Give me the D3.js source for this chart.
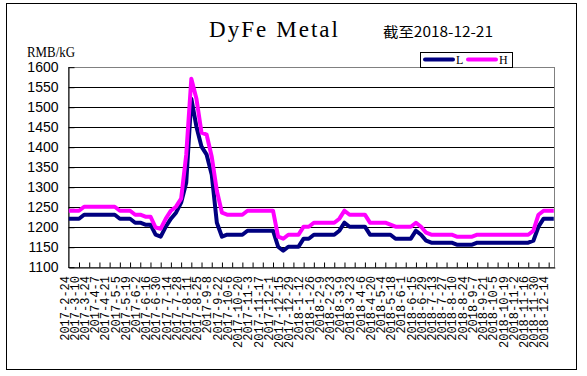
<!DOCTYPE html>
<html lang="zh">
<head>
  <meta charset="UTF-8">
  <title>DyFe Metal</title>
  <script src="https://d3js.org/d3.v7.min.js"></script>
  <style>
    body { margin: 0; background: #fff; }
  </style>
</head>
<body>
  <svg id="chart" width="587" height="376"></svg>

  <script>
    // weekly prices, RMB/kG (one value per week, 2017-2-24 .. 2018-12-21)
    const lowPrices = [
      1220, 1220, 1220, 1230, 1230, 1230, 1230, 1230, 1230, 1230,
      1220, 1220, 1220, 1210, 1210, 1205, 1205, 1180, 1175, 1200,
      1220, 1235, 1260, 1310, 1520, 1450, 1400, 1380, 1330, 1210,
      1175, 1180, 1180, 1180, 1180, 1190, 1190, 1190, 1190, 1190,
      1190, 1150, 1140, 1150, 1150, 1150, 1170, 1170, 1180, 1180,
      1180, 1180, 1180, 1190, 1210, 1200, 1200, 1200, 1200, 1180,
      1180, 1180, 1180, 1180, 1170, 1170, 1170, 1170, 1190, 1180,
      1165, 1160, 1160, 1160, 1160, 1160, 1155, 1155, 1155, 1155,
      1160, 1160, 1160, 1160, 1160, 1160, 1160, 1160, 1160, 1160,
      1160, 1165, 1200, 1220, 1220, 1220
    ];
    const highPrices = [
      1240, 1240, 1240, 1250, 1250, 1250, 1250, 1250, 1250, 1250,
      1240, 1240, 1240, 1230, 1230, 1225, 1225, 1198, 1195, 1220,
      1240, 1250, 1270, 1380, 1570, 1520, 1435, 1430, 1375, 1290,
      1235, 1230, 1230, 1230, 1230, 1240, 1240, 1240, 1240, 1240,
      1240, 1175, 1170, 1180, 1180, 1180, 1200, 1200, 1210, 1210,
      1210, 1210, 1210, 1220, 1240, 1230, 1230, 1230, 1230, 1210,
      1210, 1210, 1210, 1205, 1200, 1200, 1200, 1200, 1210, 1200,
      1185, 1180, 1180, 1180, 1180, 1180, 1175, 1175, 1175, 1175,
      1180, 1180, 1180, 1180, 1180, 1180, 1180, 1180, 1180, 1180,
      1180, 1190, 1230, 1240, 1240, 1240
    ];

    // one label every two weeks (every 10 trading days)
    const dateLabels = [
      "2017-2-24", "2017-3-10", "2017-3-24", "2017-4-7", "2017-4-21", "2017-5-5",
      "2017-5-19", "2017-6-2", "2017-6-16", "2017-6-30", "2017-7-14", "2017-7-28",
      "2017-8-11", "2017-8-25", "2017-9-8", "2017-9-22", "2017-10-6", "2017-10-20",
      "2017-11-3", "2017-11-17", "2017-12-1", "2017-12-15", "2017-12-29", "2018-1-12",
      "2018-1-26", "2018-2-9", "2018-2-23", "2018-3-9", "2018-3-23", "2018-4-6",
      "2018-4-20", "2018-5-4", "2018-5-18", "2018-6-1", "2018-6-15", "2018-6-29",
      "2018-7-13", "2018-7-27", "2018-8-10", "2018-8-24", "2018-9-7", "2018-9-21",
      "2018-10-5", "2018-10-19", "2018-11-2", "2018-11-16", "2018-11-30", "2018-12-14"
    ];

    const yTicks = [1100, 1150, 1200, 1250, 1300, 1350, 1400, 1450, 1500, 1550, 1600];

    const svg = d3.select('#chart');

    // outer frame
    svg.append('rect')
      .attr('x', 6.5).attr('y', 3.5)
      .attr('width', 570).attr('height', 366)
      .attr('fill', '#fff').attr('stroke', '#000').attr('stroke-width', 1);

    // x runs over trading days: 476 days, 5 per week
    const x = d3.scaleLinear().domain([0, 476]).range([68.3, 554.3]);
    const y = d3.scaleLinear().domain([1100, 1600]).range([266.7, 66.7]);

    // gridlines
    svg.append('g').selectAll('line')
      .data(yTicks.slice(1, -1))
      .enter().append('line')
      .attr('x1', x(0)).attr('x2', x(476))
      .attr('y1', d => Math.round(y(d)) + 0.5).attr('y2', d => Math.round(y(d)) + 0.5)
      .attr('stroke', '#000').attr('stroke-width', 1);

    // plot area border (grey top/right)
    svg.append('rect')
      .attr('x', Math.round(x(0)) + 0.5).attr('y', Math.round(y(1600)) + 0.5)
      .attr('width', Math.round(x(476)) - Math.round(x(0)))
      .attr('height', Math.round(y(1100)) - Math.round(y(1600)))
      .attr('fill', 'none').attr('stroke', '#808080');

    // y axis
    const yAxis = d3.axisLeft(y).tickValues(yTicks).tickFormat(d3.format('d'))
      .tickSizeInner(-6).tickSizeOuter(0).tickPadding(10);
    const gy = svg.append('g')
      .attr('transform', `translate(${Math.round(x(0)) + 0.5},0.5)`)
      .call(yAxis);
    gy.select('.domain').attr('stroke', '#000');
    gy.selectAll('.tick line').attr('stroke', '#000');
    gy.selectAll('.tick text')
      .attr('font-family', 'Liberation Sans, Arial, sans-serif')
      .attr('font-size', 14).attr('fill', '#000');

    // x axis: ticks every 10 trading days, pointing up
    const xTickDays = d3.range(1, dateLabels.length).map(k => k * 10);
    const xAxis = d3.axisBottom(x).tickValues(xTickDays).tickSizeInner(-5).tickSizeOuter(0).tickFormat('');
    const gx = svg.append('g')
      .attr('transform', `translate(0.5,${Math.round(y(1100)) + 0.5})`)
      .call(xAxis);
    gx.select('.domain').attr('stroke', '#000');
    gx.selectAll('.tick line').attr('stroke', '#000');

    // rotated date labels
    svg.append('g').selectAll('text')
      .data(dateLabels)
      .enter().append('text')
      .attr('transform', (d, i) => `translate(${x(i * 10 + 0.5) - 4.5},276) rotate(-90)`)
      .attr('dy', '0.35em')
      .attr('text-anchor', 'end')
      .attr('font-family', 'Liberation Mono, monospace')
      .attr('font-size', 12)
      .attr('fill', '#000')
      .text(d => d);

    // series lines
    const line = d3.line()
      .x((d, i) => x(i * 5 + 0.5))
      .y(d => y(d))
      .curve(d3.curveLinear);

    svg.append('path')
      .datum(lowPrices)
      .attr('d', line)
      .attr('fill', 'none').attr('stroke', '#000080')
      .attr('stroke-width', 4).attr('stroke-linejoin', 'round');

    svg.append('path')
      .datum(highPrices)
      .attr('d', line)
      .attr('fill', 'none').attr('stroke', '#ff00ff')
      .attr('stroke-width', 4).attr('stroke-linejoin', 'round');

    // title and date
    svg.append('text')
      .attr('x', 209).attr('y', 37)
      .attr('font-family', 'Liberation Serif, serif')
      .attr('font-size', 23)
      .attr('textLength', 129).attr('lengthAdjust', 'spacing')
      .attr('fill', '#000')
      .text('DyFe Metal');

    svg.append('text')
      .attr('x', 383).attr('y', 37)
      .attr('font-family', 'Noto Sans CJK SC, sans-serif')
      .attr('font-size', 14)
      .attr('textLength', 110).attr('lengthAdjust', 'spacingAndGlyphs')
      .attr('fill', '#000')
      .text('截至2018-12-21');

    // unit label
    svg.append('text')
      .attr('x', 27).attr('y', 57)
      .attr('font-family', 'Liberation Serif, serif')
      .attr('font-size', 14)
      .attr('textLength', 48).attr('lengthAdjust', 'spacingAndGlyphs')
      .attr('fill', '#000')
      .text('RMB/kG');

    // legend
    const legend = svg.append('g');
    legend.append('rect')
      .attr('x', 420.5).attr('y', 52.5).attr('width', 92).attr('height', 15)
      .attr('fill', '#fff').attr('stroke', '#000');
    const legendItems = [
      { name: 'L', color: '#000080', x0: 424 },
      { name: 'H', color: '#ff00ff', x0: 467 }
    ];
    legendItems.forEach(it => {
      legend.append('line')
        .attr('x1', it.x0 + 1).attr('x2', it.x0 + 29)
        .attr('y1', 59.5).attr('y2', 59.5)
        .attr('stroke', it.color).attr('stroke-width', 4).attr('stroke-linecap', 'round');
      legend.append('text')
        .attr('x', it.x0 + 32).attr('y', 64)
        .attr('font-family', 'Liberation Serif, serif')
        .attr('font-size', 12)
        .attr('fill', '#000')
        .text(it.name);
    });
  </script>
</body>
</html>
